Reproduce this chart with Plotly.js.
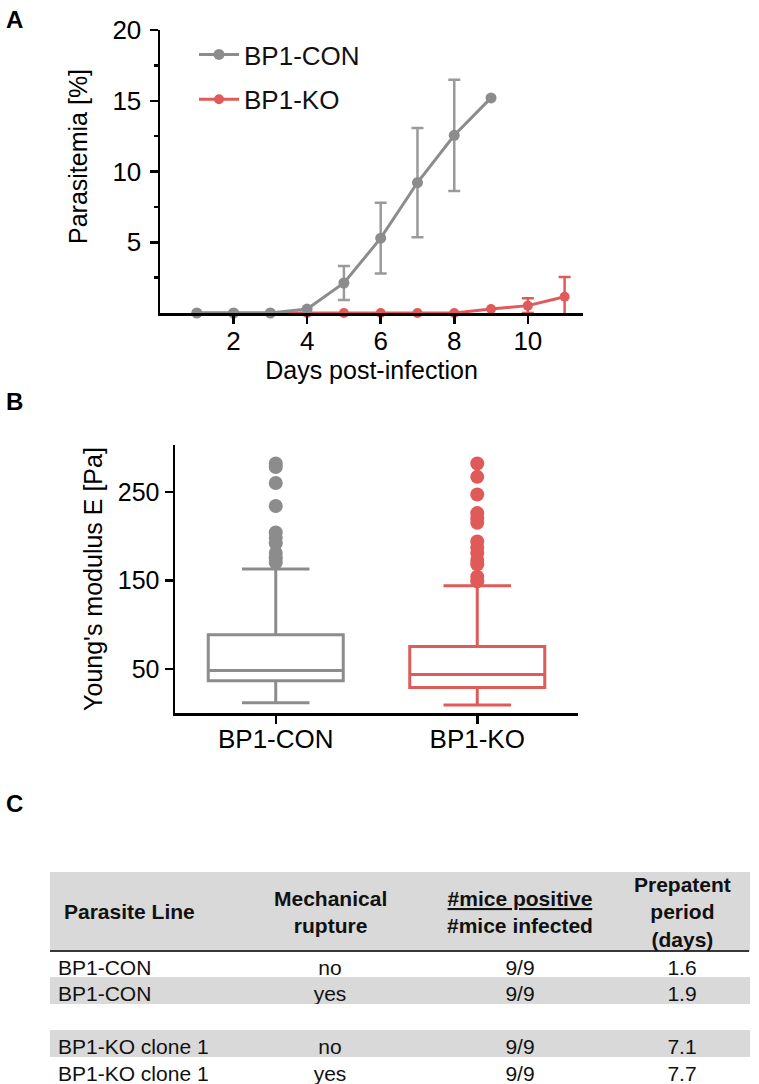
<!DOCTYPE html>
<html><head><meta charset="utf-8">
<script src="https://cdn.plot.ly/plotly-3.0.1.min.js"></script>
<style>html,body{margin:0;padding:0;background:#fff}</style>
</head><body><div id="chart" style="width:759px;height:1084px"></div>
<script>
// ---------- Panel A data ----------
const conDays = [1, 2, 3, 4, 5, 6, 7, 8, 9];
const conMean = [0, 0, 0, 0.28, 2.12, 5.29, 9.22, 12.56, 15.2];
const conSD   = [null, null, null, null, 1.2, 2.5, 3.86, 3.93, null];
const koDays  = [1, 2, 3, 4, 5, 6, 7, 8, 9, 10, 11];
const koMean  = [0, 0, 0, 0, 0, 0, 0, 0, 0.28, 0.52, 1.15];
const koSD    = [null, null, null, null, null, null, null, null, null, 0.52, 1.39];
const xTicksA = [2, 4, 6, 8, 10];
const yTicksA = [5, 10, 15, 20];
const yMinorA = [2.5, 7.5, 12.5, 17.5];

// ---------- Panel B data ----------
const groups = ['BP1-CON', 'BP1-KO'];
const q1 = [36.4, 28.9];
const median = [48, 43.6];
const q3 = [88.4, 75.2];
const lowerWhisker = [11.6, 9];
const upperWhisker = [162.7, 143.8];
const conOutliers = [282, 278, 260, 234, 204, 198, 192, 181, 175, 170];
const koOutliers = [282, 267, 247, 226, 220, 215, 194, 187, 181, 173, 168, 154, 149];
const yTicksB = [50, 150, 250];

// ---------- Panel C data ----------
const tableHeader = ['Parasite Line', 'Mechanical<br>rupture', '<u>#mice positive</u><br>#mice infected', 'Prepatent<br>period<br>(days)'];
const parasiteLine = ['BP1-CON', 'BP1-CON', '', 'BP1-KO clone 1', 'BP1-KO clone 1'];
const rupture = ['no', 'yes', '', 'no', 'yes'];
const micePositive = ['9/9', '9/9', '', '9/9', '9/9'];
const prepatent = ['1.6', '1.9', '', '7.1', '7.7'];

// ---------- styling ----------
const W = 759, H = 1084;
const GRAY = '#8c8c8c', GRAY_ERR = '#9a9a9a', RED = '#e05a5a', BAND = '#d9d9d9';
const FONT = 'Liberation Sans, Arial, Helvetica, sans-serif';
const px = v => v / W;
const py = v => 1 - v / H;
const toNaN = a => a.map(v => (v === null ? NaN : v));
const noWrap = a => a.map(s => s.replace(/ /g, '\u00a0'));

const traces = [
  {
    type: 'scatter', mode: 'lines+markers', name: 'BP1-KO',
    x: koDays, y: koMean, xaxis: 'x', yaxis: 'y', cliponaxis: false,
    legendgroup: 'ko', legendrank: 2,
    line: {color: RED, width: 3}, marker: {color: RED, size: 10},
    error_y: {type: 'data', array: toNaN(koSD), color: RED, thickness: 2.5, width: 6}
  },
  {
    type: 'scatter', mode: 'lines+markers', name: 'BP1-CON',
    x: conDays, y: conMean, xaxis: 'x', yaxis: 'y', cliponaxis: false,
    legendgroup: 'con', legendrank: 1,
    line: {color: GRAY, width: 3}, marker: {color: GRAY, size: 11},
    error_y: {type: 'data', array: toNaN(conSD), color: GRAY_ERR, thickness: 2.5, width: 6}
  }
];

const boxColors = [GRAY, RED];
groups.forEach((g, i) => {
  traces.push({
    type: 'box', x: [g], q1: [q1[i]], median: [median[i]], q3: [q3[i]],
    lowerfence: [lowerWhisker[i]], upperfence: [upperWhisker[i]],
    xaxis: 'x2', yaxis: 'y2', showlegend: false, boxpoints: false,
    width: 0.67, whiskerwidth: 0.5,
    line: {color: boxColors[i], width: 3}, fillcolor: 'rgba(0,0,0,0)', hoverinfo: 'skip'
  });
});
[conOutliers, koOutliers].forEach((arr, i) => {
  traces.push({
    type: 'scatter', mode: 'markers', x: arr.map(() => groups[i]), y: arr,
    xaxis: 'x2', yaxis: 'y2', showlegend: false, cliponaxis: false,
    marker: {color: boxColors[i], size: 14}
  });
});

// table geometry
const tableLeft = 50, tableRight = 749, tableTop = 872, headerH = 79, rowH = 26.5;
const colWidths = [185, 190, 190, 134];
const rowFill = ['white', BAND, 'white', BAND, 'white'];
traces.push({
  type: 'table',
  domain: {x: [px(tableLeft), px(tableRight)], y: [0, py(tableTop)]},
  columnwidth: colWidths,
  header: {
    values: tableHeader.map(() => ''),
    fill: {color: BAND}, line: {color: BAND, width: 1},
    font: {family: FONT, size: 21, color: '#111'}, height: headerH
  },
  cells: {
    values: [noWrap(parasiteLine), rupture, micePositive, prepatent],
    align: ['left', 'center', 'center', 'center'],
    fill: {color: colWidths.map(() => rowFill)},
    line: {color: colWidths.map(() => rowFill), width: 1},
    font: {family: FONT, size: 21, color: '#111'}, height: rowH
  }
});

// header labels (multi-line, centred) placed over the header band
const totalW = colWidths.reduce((a, b) => a + b, 0);
const scale = (tableRight - tableLeft) / totalW;
let acc = tableLeft;
const headerAnns = tableHeader.map((t, i) => {
  const left = acc, w = colWidths[i] * scale;
  acc += w;
  const isFirst = i === 0;
  return {
    text: '<b>' + t.replace(/<br>/g, '</b><br><b>') + '</b>',
    x: px(isFirst ? left + 12 : left + w / 2), xanchor: isFirst ? 'left' : 'center',
    y: py(tableTop + headerH / 2), yanchor: 'middle', align: 'center',
    xref: 'paper', yref: 'paper', showarrow: false,
    font: {family: FONT, size: 21, color: '#111'}
  };
});

const axisCommon = {
  showgrid: false, zeroline: false, showline: true, linecolor: '#000', linewidth: 2.5,
  ticks: 'outside', ticklen: 8, tickwidth: 2.5, tickcolor: '#000',
  tickfont: {family: FONT, size: 26, color: '#000'}
};

const layout = {
  width: W, height: H, margin: {l: 0, r: 0, t: 0, b: 0},
  paper_bgcolor: '#fff', plot_bgcolor: 'rgba(0,0,0,0)',
  font: {family: FONT, color: '#000'},
  showlegend: true,
  legend: {
    x: px(194), y: py(31), xanchor: 'left', yanchor: 'top',
    traceorder: 'grouped', tracegroupgap: 8,
    font: {family: FONT, size: 26, color: '#111'}, bgcolor: 'rgba(0,0,0,0)', itemwidth: 40
  },
  xaxis: Object.assign({}, axisCommon, {
    domain: [px(160), px(583)], range: [0, 11.5], tickvals: xTicksA, anchor: 'y',
    ticklabelstandoff: -5,
    title: {text: 'Days post-infection', font: {family: FONT, size: 25}, standoff: 6}
  }),
  yaxis: Object.assign({}, axisCommon, {
    domain: [py(313), py(30)], range: [0, 20], tickvals: yTicksA, anchor: 'x',
    ticklabelstandoff: 3,
    minor: {tickvals: yMinorA, ticks: 'outside', ticklen: 4, tickwidth: 2.5, tickcolor: '#000'}
  }),
  xaxis2: Object.assign({}, axisCommon, {
    domain: [px(175), px(578)], range: [-0.5, 1.5], type: 'category', anchor: 'y2',
    ticklabelstandoff: -7
  }),
  yaxis2: Object.assign({}, axisCommon, {
    domain: [py(713), py(445)], range: [0, 303], tickvals: yTicksB, anchor: 'x2',
    tickfont: {family: FONT, size: 25, color: '#000'},
    title: {text: "Young's modulus E [Pa]", font: {family: FONT, size: 25}, standoff: 8}
  }),
  shapes: [
    {type: 'line', xref: 'paper', yref: 'paper', x0: px(tableLeft), x1: px(tableRight),
     y0: py(tableTop + headerH), y1: py(tableTop + headerH), line: {color: '#000', width: 1.5}}
  ],
  annotations: [
    {text: 'Parasitemia [%]', textangle: -90, x: px(78), y: py(157), xref: 'paper', yref: 'paper',
     xanchor: 'center', yanchor: 'middle', showarrow: false, font: {family: FONT, size: 25, color: '#000'}},
    {text: '<b>A</b>', x: px(4), y: py(4), xref: 'paper', yref: 'paper', xanchor: 'left', yanchor: 'top', showarrow: false, font: {family: FONT, size: 24}},
    {text: '<b>B</b>', x: px(4), y: py(386), xref: 'paper', yref: 'paper', xanchor: 'left', yanchor: 'top', showarrow: false, font: {family: FONT, size: 24}},
    {text: '<b>C</b>', x: px(4), y: py(788), xref: 'paper', yref: 'paper', xanchor: 'left', yanchor: 'top', showarrow: false, font: {family: FONT, size: 24}}
  ].concat(headerAnns)
};

Plotly.newPlot('chart', traces, layout, {displayModeBar: false, staticPlot: true});
</script>
</body></html>
